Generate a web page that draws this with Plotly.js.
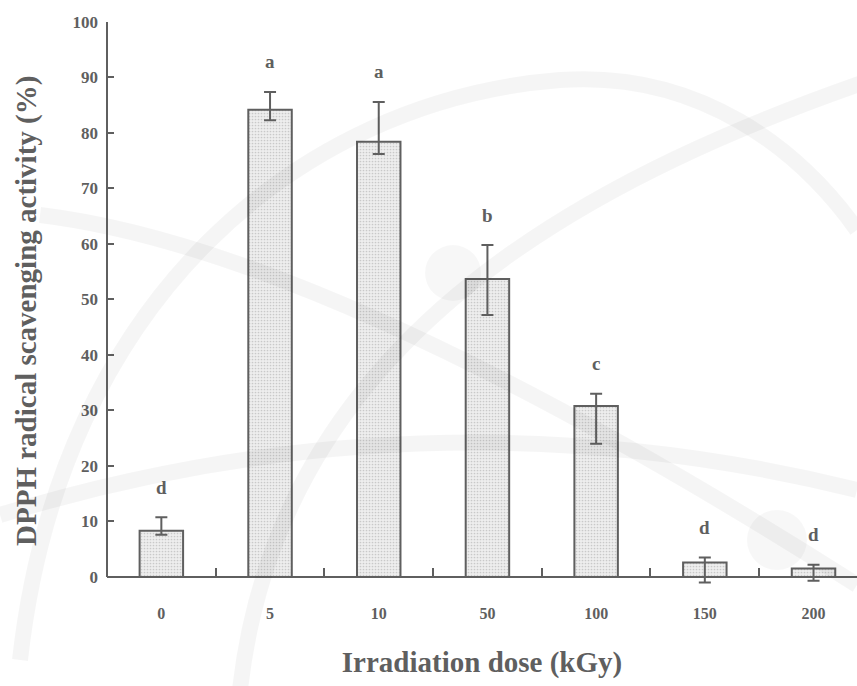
<!DOCTYPE html>
<html>
<head>
<meta charset="utf-8">
<script src="https://cdn.plot.ly/plotly-3.0.1.min.js"></script>
<style>html,body{margin:0;padding:0;background:#fff;}#chart{width:857px;height:686px;}</style>
</head>
<body>
<div id="chart"></div>
<script>
// Data
const doses = ["0", "5", "10", "50", "100", "150", "200"];
const activity = [8.3, 84.2, 78.4, 53.7, 30.8, 2.6, 1.5];
const errPlus = [2.45, 3.2, 7.2, 6.1, 2.2, 0.9, 0.7];
const errMinus = [0.7, 1.9, 2.2, 6.5, 6.8, 3.6, 2.2];
const groups = ["d", "a", "a", "b", "c", "d", "d"];
const yTicks = [0, 10, 20, 30, 40, 50, 60, 70, 80, 90, 100];
const xTitle = "Irradiation dose (kGy)";
const yTitle = "DPPH radical scavenging activity (%)";

const ink = "#5f5f5f";
const serif = "Liberation Serif, Times New Roman, serif";

// plot-area geometry
const W = 857, H = 686;
const M = {l: 107, r: 0, t: 22, b: 98};
const yRange = [-2, 100];
const zeroPos = (0 - yRange[0]) / (yRange[1] - yRange[0]);

const bars = {
  type: "bar",
  x: doses,
  y: activity,
  width: 0.4,
  marker: {
    color: "#ebebeb",
    line: {color: ink, width: 2},
    pattern: {shape: ".", size: 3, solidity: 0.25, fgcolor: "#c9c9c9", bgcolor: "#eeeeee"}
  },
  error_y: {
    type: "data",
    symmetric: false,
    array: errPlus,
    arrayminus: errMinus,
    color: ink,
    thickness: 2,
    width: 6
  },
  hoverinfo: "x+y"
};

const letterAnn = doses.map((d, i) => ({
  x: i,
  y: activity[i] + errPlus[i],
  text: groups[i],
  showarrow: false,
  yanchor: "middle",
  yshift: 30,
  font: {family: serif, size: 19, weight: 700, color: ink}
}));

// faint atom-logo watermark of the source figure (decoration only)
const pw = W - M.l - M.r, ph = H - M.t - M.b;
const px = x => ((x - M.l) / pw).toFixed(4);
const py = y => ((H - M.b - y) / ph).toFixed(4);
const P = (x, y) => px(x) + "," + py(y);
const band = "rgba(0,0,0,0.04)";
const orbitPaths = [
  "M" + P(0, 515) + " Q" + P(431, 384) + " " + P(857, 490),
  "M" + P(900, 70) + " C" + P(600, 170) + " " + P(280, 330) + " " + P(240, 690),
  "M" + P(40, 215) + " Q" + P(330, 250) + " " + P(857, 585),
  "M" + P(20, 660) + " C" + P(60, 300) + " " + P(300, 100) + " " + P(560, 80) + " C" + P(700, 70) + " " + P(800, 150) + " " + P(857, 230)
];
const shapes = orbitPaths.map(p => ({
  type: "path", xref: "paper", yref: "paper", path: p,
  line: {color: band, width: 16}, layer: "above"
}));
[[453, 273, 28], [777, 540, 30]].forEach(c => {
  shapes.push({
    type: "circle", xref: "paper", yref: "paper",
    x0: px(c[0] - c[2]), x1: px(c[0] + c[2]), y0: py(c[1] + c[2]), y1: py(c[1] - c[2]),
    fillcolor: "rgba(0,0,0,0.03)", line: {width: 0}, layer: "above"
  });
});
// y-axis line from 0 to 100 only
shapes.push({
  type: "line", xref: "paper", yref: "y", x0: 0, x1: 0, y0: 0, y1: 100,
  line: {color: ink, width: 2}, layer: "above"
});

const yTitleAnn = {
  xref: "paper", yref: "paper",
  x: px(27), y: py(311),
  xanchor: "center", yanchor: "middle",
  textangle: -90,
  text: yTitle,
  showarrow: false,
  font: {family: serif, size: 29, weight: 700, color: ink}
};

const layout = {
  width: W,
  height: H,
  margin: M,
  paper_bgcolor: "#ffffff",
  plot_bgcolor: "rgba(0,0,0,0)",
  showlegend: false,
  xaxis: {
    type: "category",
    range: [-0.5, 6.4],
    anchor: "free",
    position: zeroPos,
    tickson: "boundaries",
    ticks: "inside",
    ticklen: 8,
    tickwidth: 2,
    tickcolor: ink,
    showline: true,
    linecolor: ink,
    linewidth: 2,
    showgrid: false,
    zeroline: false,
    ticklabelstandoff: 22,
    tickfont: {family: serif, size: 16, weight: 700, color: ink},
    title: {
      text: xTitle,
      standoff: 30,
      font: {family: serif, size: 29, weight: 700, color: ink}
    }
  },
  yaxis: {
    range: yRange,
    tickvals: yTicks,
    ticks: "inside",
    ticklen: 7,
    tickwidth: 2,
    tickcolor: ink,
    showline: false,
    showgrid: false,
    zeroline: false,
    ticklabelstandoff: 8,
    tickfont: {family: serif, size: 17, weight: 700, color: ink}
  },
  shapes: shapes,
  annotations: letterAnn.concat([yTitleAnn])
};

Plotly.newPlot("chart", [bars], layout, {displayModeBar: false, staticPlot: true});
</script>
</body>
</html>
